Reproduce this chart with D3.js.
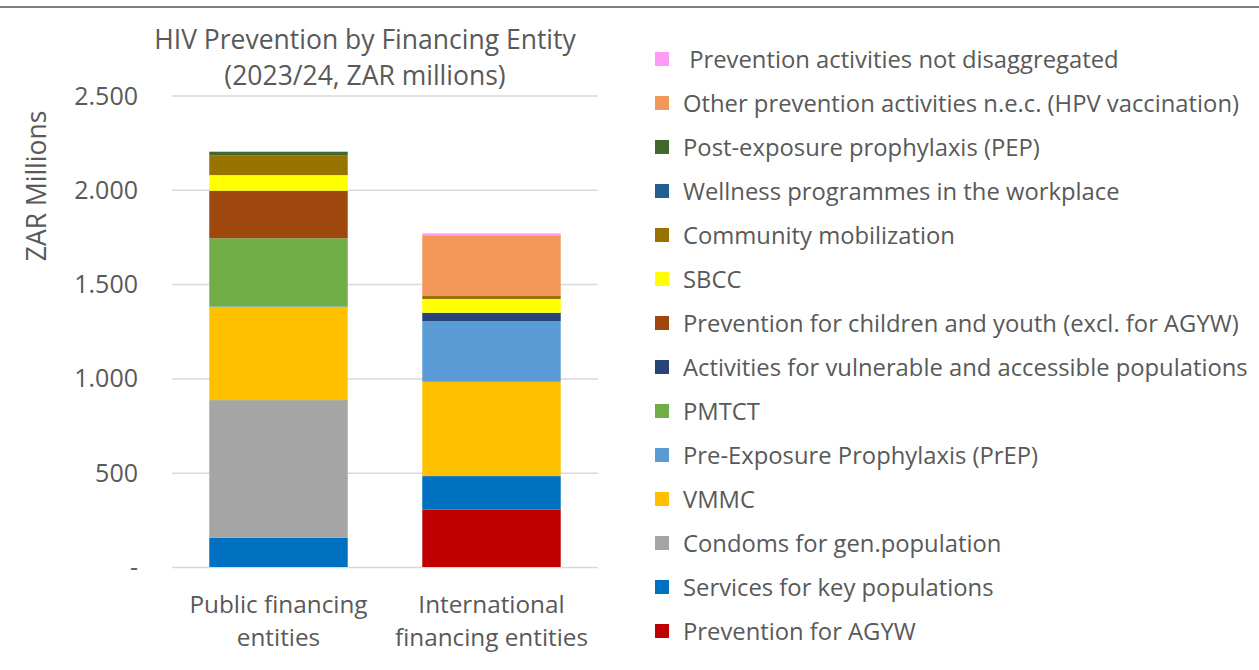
<!DOCTYPE html>
<html lang="en">
  <head>
    <meta charset="utf-8">
    <title>HIV Prevention by Financing Entity</title>
    <style>
      body { margin: 0; background: #fff; }
      svg text { font-family: "Open Sans", "Noto Sans", sans-serif; fill: #595959; }
    </style>
  </head>
  <body>
    <svg id="chart" width="1259" height="670"></svg>
  <script src="https://cdn.jsdelivr.net/npm/d3@7"></script>
  <script type="text/javascript">

    // categories on the x axis (each label split over two lines)
    var entities = ['Public', 'International'];
    var entityLabels = [['Public financing', 'entities'], ['International', 'financing entities']];

    // series, bottom of the stack first
    var series = ['Prevention for AGYW', 'Services for key populations', 'Condoms for gen.population',
      'VMMC', 'Pre-Exposure Prophylaxis (PrEP)', 'PMTCT', 'Activities for vulnerable and accessible populations',
      'Prevention for children and youth (excl. for AGYW)', 'SBCC', 'Community mobilization',
      'Wellness programmes in the workplace', 'Post-exposure prophylaxis (PEP)',
      'Other prevention activities n.e.c. (HPV vaccination)', ' Prevention activities not disaggregated'];
    var colors = ['#C00000', '#0070C0', '#A5A5A5', '#FFC000', '#5B9BD5', '#70AD47', '#264478',
      '#9E480E', '#FFFF00', '#997300', '#255E91', '#43682B', '#F1975A', '#FF99F5'];

    // ZAR millions, same order as series
    var publicValues = [0, 155, 730, 492, 4, 362, 0, 252, 83, 103, 0, 21, 0, 0];
    var internationalValues = [304, 178, 0, 500, 322, 0, 44, 0, 73, 19, 0, 0, 319, 10];

    var yTicks = [0, 500, 1000, 1500, 2000, 2500];

    var svg = d3.select('#chart');

    // thin frame line along the top
    svg.append('line').attr('x1', 0).attr('x2', 1259).attr('y1', 7).attr('y2', 7)
      .attr('stroke', '#808080').attr('stroke-width', 2);

    var x = d3.scaleBand().domain(entities).range([172, 598]).paddingInner(0.35).paddingOuter(0.175);
    var y = d3.scaleLinear().domain([0, 2500]).range([567, 95.5]);

    var rows = entities.map(function(e, i) {
      var vals = i == 0 ? publicValues : internationalValues;
      var r = { entity: e };
      series.forEach(function(s, j) { r[s] = vals[j]; });
      return r;
    });
    var stacked = d3.stack().keys(series)(rows);

    // gridlines
    var fmt = function(v) { return v == 0 ? '-' : d3.format(',')(v).replace(/,/g, '.'); };
    var yAxis = svg.append('g').attr('transform', 'translate(172,0)')
      .call(d3.axisLeft(y).tickValues(yTicks).tickSize(-426).tickPadding(34).tickFormat(fmt));
    yAxis.select('.domain').remove();
    yAxis.selectAll('.tick line').attr('stroke', '#D9D9D9').attr('stroke-width', 1.5);
    yAxis.selectAll('.tick text').attr('font-size', 25).attr('dy', '0.34em').style('fill', '#595959');

    svg.append('g').selectAll('g').data(stacked).enter().append('g')
      .attr('fill', function(d, i) { return colors[i]; })
      .selectAll('rect').data(function(d) { return d; }).enter().append('rect')
      .attr('x', function(d) { return x(d.data.entity); })
      .attr('width', x.bandwidth())
      .attr('y', function(d) { return y(d[1]); })
      .attr('height', function(d) { return y(d[0]) - y(d[1]); });

    // x labels
    entities.forEach(function(e, i) {
      var t = svg.append('text').attr('text-anchor', 'middle').attr('font-size', 24.3)
        .attr('x', x(e) + x.bandwidth() / 2).attr('y', 613);
      entityLabels[i].forEach(function(line, k) {
        t.append('tspan').attr('x', x(e) + x.bandwidth() / 2).attr('dy', k == 0 ? 0 : 33).text(line);
      });
    });

    // title
    svg.append('text').attr('text-anchor', 'middle').attr('font-size', 26.5)
      .attr('x', 365).attr('y', 49).text('HIV Prevention by Financing Entity');
    svg.append('text').attr('text-anchor', 'middle').attr('font-size', 26.5)
      .attr('x', 365).attr('y', 85).text('(2023/24, ZAR millions)');

    // y title
    svg.append('text').attr('text-anchor', 'middle').attr('font-size', 26.5)
      .attr('transform', 'translate(46,186) rotate(-90)').text('ZAR Millions');

    // legend, top item = last series
    var legendItems = series.map(function(s, i) { return { name: s, color: colors[i] }; }).reverse();
    var ly = d3.scalePoint().domain(legendItems.map(function(d) { return d.name; })).range([59, 631]);
    var lg = svg.append('g').selectAll('g').data(legendItems).enter().append('g')
      .attr('transform', function(d) { return 'translate(655,' + ly(d.name) + ')'; });
    lg.append('rect').attr('x', 0).attr('y', -7).attr('width', 14).attr('height', 14)
      .attr('fill', function(d) { return d.color; });
    lg.append('text').attr('x', 28).attr('y', 8.5).attr('font-size', 23.8)
      .attr('xml:space', 'preserve')
      .text(function(d) { return d.name; });

  </script>
  </body>
</html>
